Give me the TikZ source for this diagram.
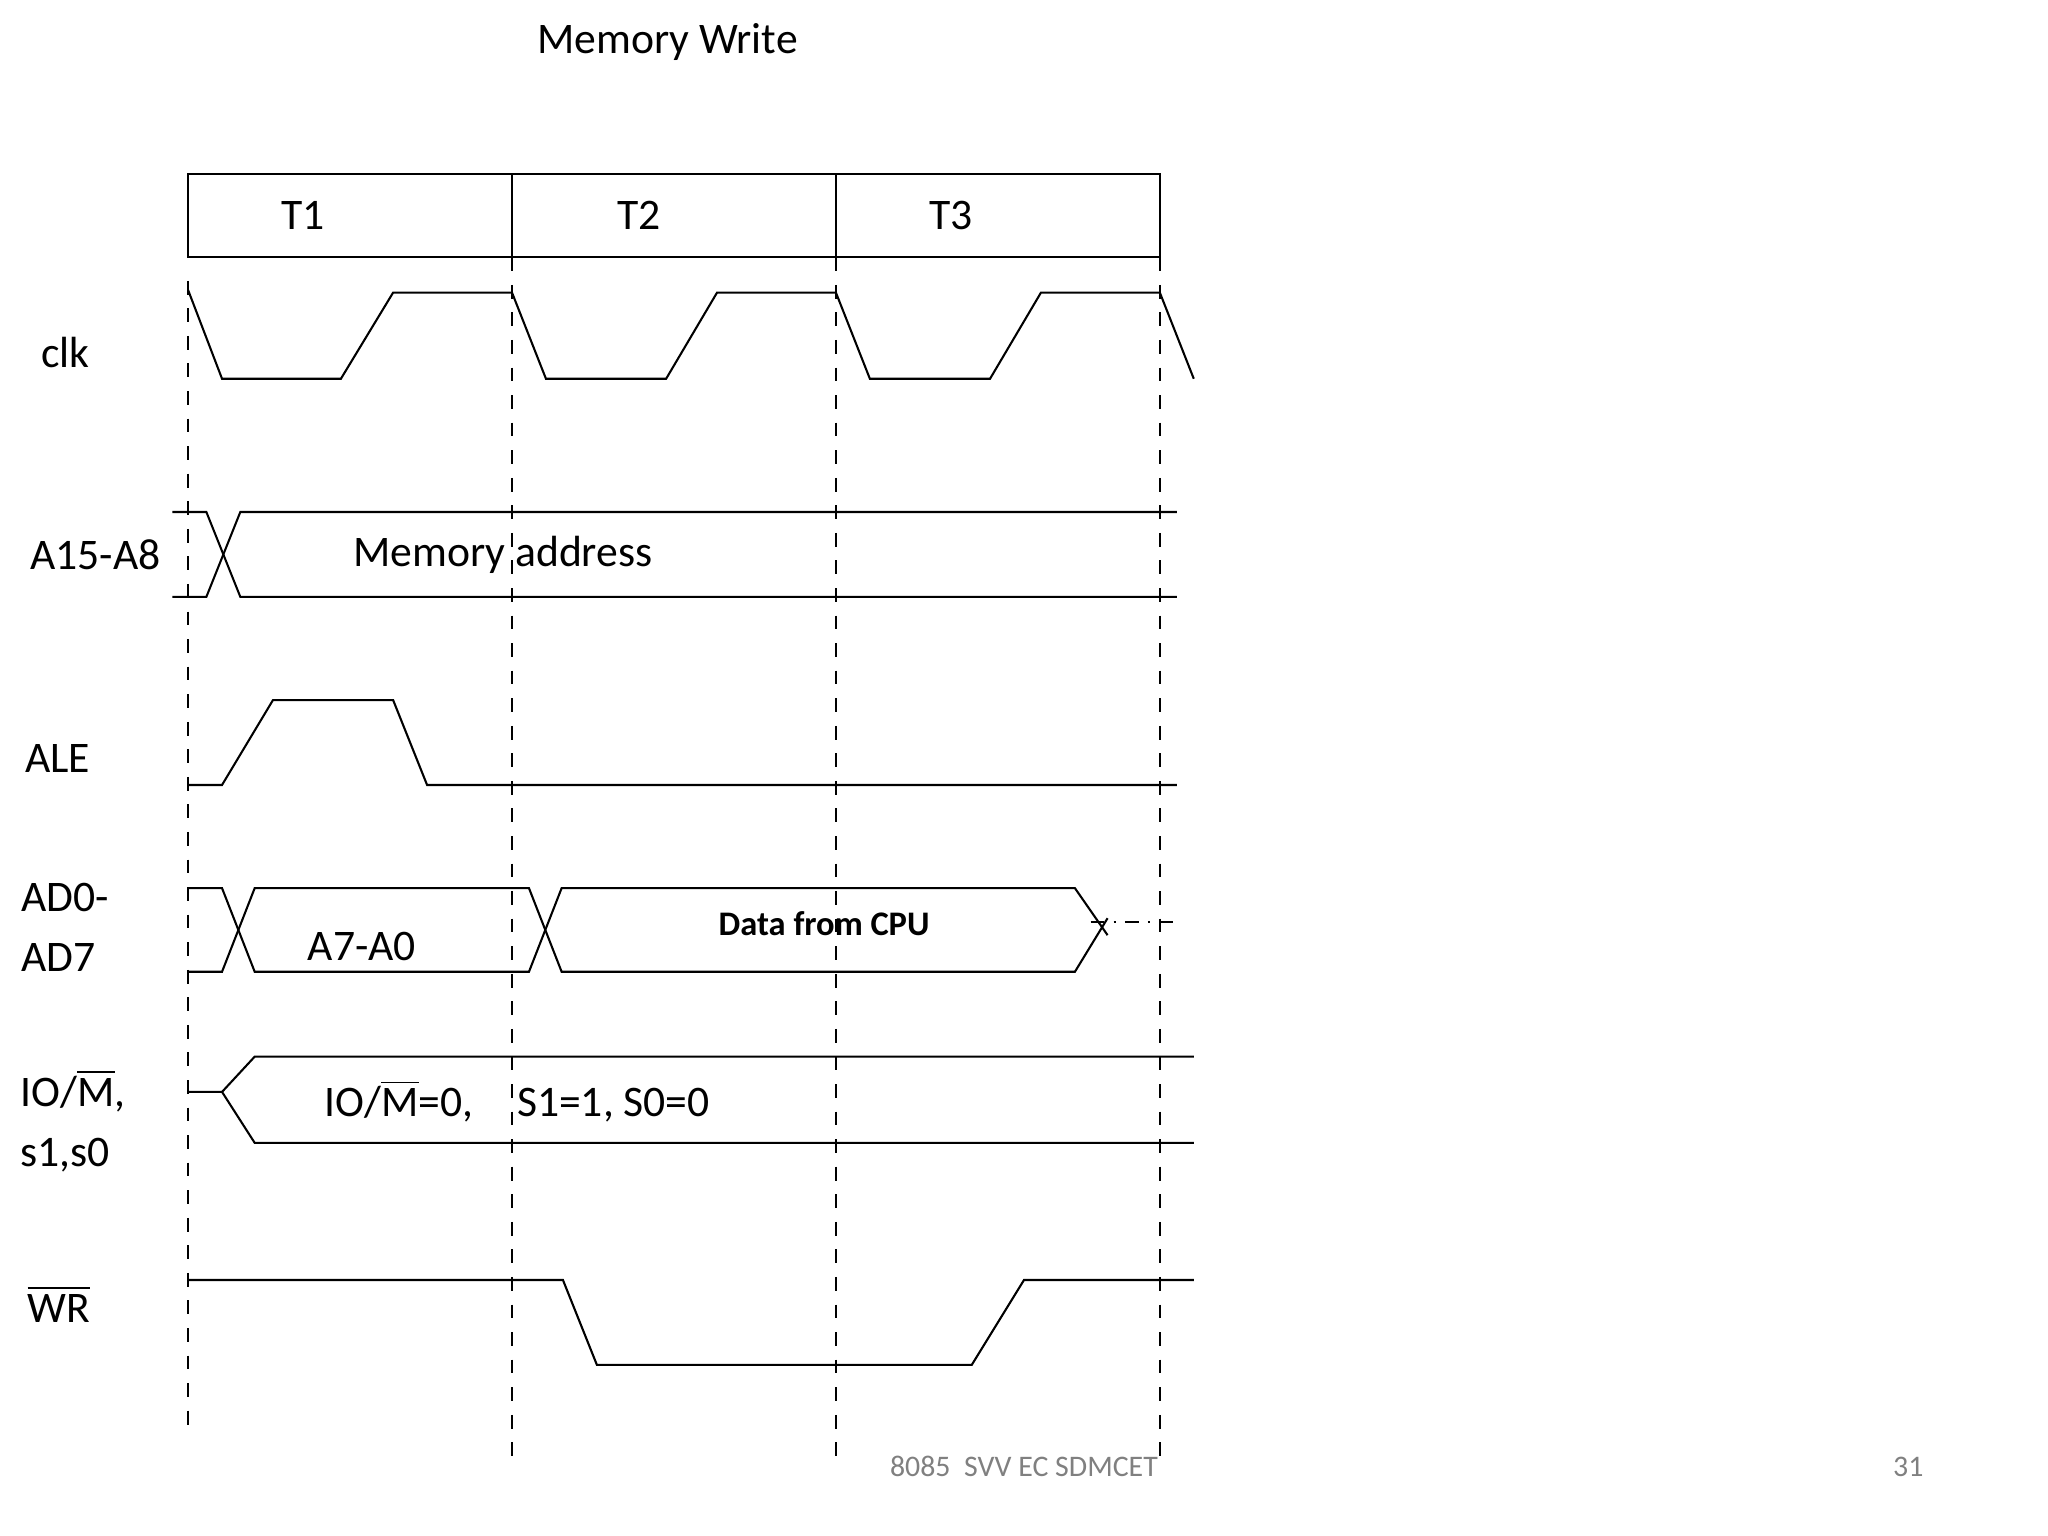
\documentclass[tikz,border=0pt]{standalone}
\usepackage{fontspec}
\setmainfont{Carlito}
\begin{document}
\begin{tikzpicture}[x=0.01cm,y=-0.01cm,line width=0.45pt,
  lbl/.style={font=\fontsize{9.5}{11}\selectfont},
  sig/.style={draw=black},
  guide/.style={dashed,line width=0.45pt}]
\useasboundingbox (0,0) rectangle (1568,1176);
\node[lbl] (title) at (511,32) {Memory Write};
% header
\draw (144,133) rectangle (888,197);
\draw (392,133)--(392,197) (640,133)--(640,197);
\node[lbl] (t1) at (232,165) {T1};
\node[lbl] (t2) at (489,165) {T2};
\node[lbl] (t3) at (728,165) {T3};
% guides
\draw[guide] (144,215)--(144,1092);
\draw[guide] (392,197)--(392,1120);
\draw[guide] (640,197)--(640,1120);
\draw[guide] (888,197)--(888,1115);
% clk
\node[lbl] (lclk) at (50,270) {clk};
\draw (144,222)--(170,290)--(261,290)--(301,224)--(392,224)--(418,290)--(510,290)--(549,224)--(640,224)--(666,290)--(758,290)--(797,224)--(888,224)--(914,290);
% A15-A8
\node[lbl] (la) at (73,425) {A15-A8};
\draw (132,392)--(158,392)--(184,457)--(901,457);
\draw (132,457)--(158,457)--(184,392)--(901,392);
\node[lbl] (ma) at (385,425) {Memory address};
% ALE
\node[lbl] (lale) at (44,581) {ALE};
\draw (144,601)--(170,601)--(209,536)--(301,536)--(327,601)--(901,601);
% AD0-AD7
\node[lbl,align=left] (lad) at (50,710) {AD0-\\[2pt]AD7};
\draw (144,680)--(170,680)--(195,744)--(405,744)--(430,680)--(823,680)--(848,716);
\draw (144,744)--(170,744)--(195,680)--(405,680)--(430,744)--(823,744)--(848,703);
\draw[dash dot] (835,706)--(901,706);
\node[lbl] (a70) at (277,725) {A7-A0};
\node[font=\fontsize{7.5}{9}\selectfont\bfseries] (dcpu) at (631,707) {Data from CPU};
% IO/M
\node[lbl,align=left] (lio) at (56,858) {IO/$\overline{\mbox{M}}$,\\[2pt]s1,s0};
\draw (144,836)--(170,836)--(195,809)--(914,809);
\draw (170,836)--(195,875)--(914,875);
\node[lbl] (iot) at (396,843) {IO/$\overline{\mbox{M}}$=0,\quad S1=1, S0=0};
% WR
\node[lbl] (lwr) at (45,998) {$\overline{\mbox{WR}}$};
\draw (144,980)--(431,980)--(457,1045)--(744,1045)--(784,980)--(914,980);
% footer
\node[font=\fontsize{6.5}{8}\selectfont,text=gray] (ft) at (784,1123) {8085\ \ SVV EC SDMCET};
\node[font=\fontsize{6.5}{8}\selectfont,text=gray] (pg) at (1461,1123) {31};
\end{tikzpicture}
\end{document}
